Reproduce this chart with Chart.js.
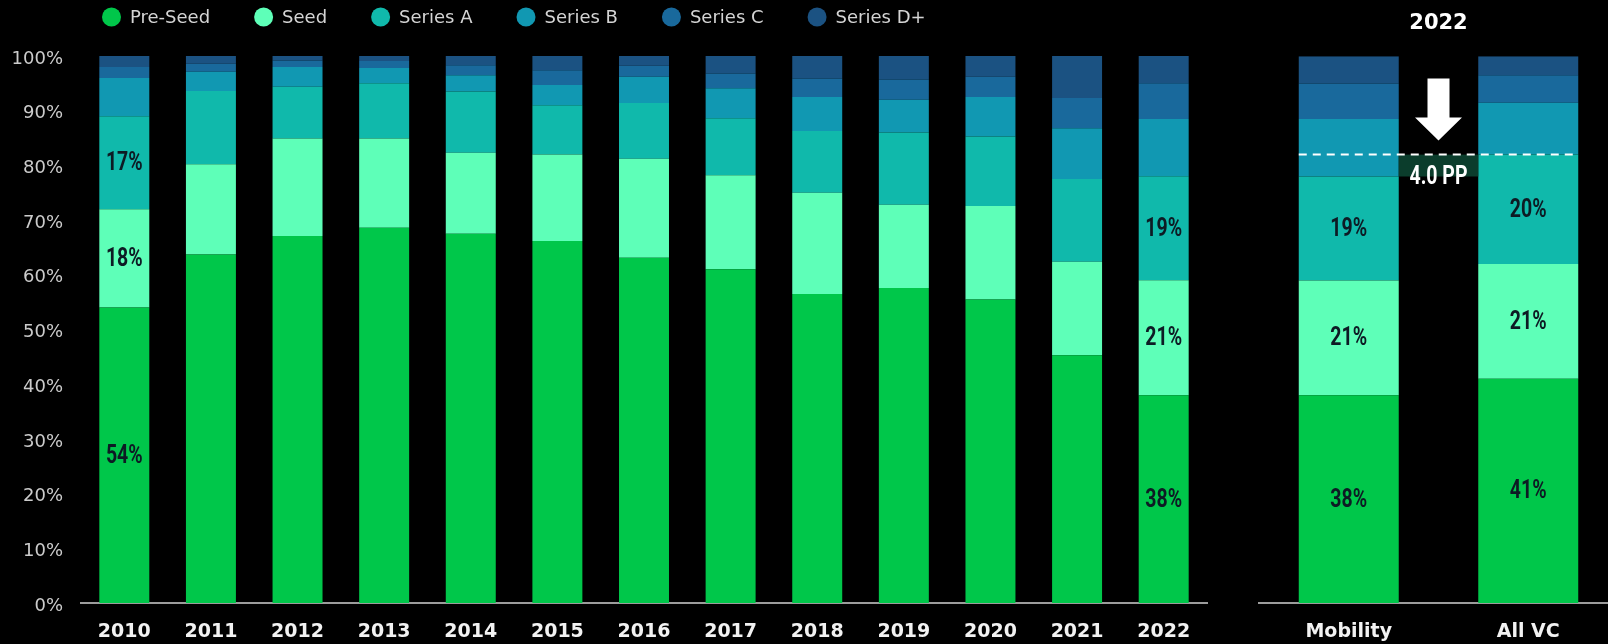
<!DOCTYPE html>
<html>
<head>
<meta charset="utf-8">
<title>Funding stage mix</title>
<script src="https://cdn.jsdelivr.net/npm/chart.js@4.4.0/dist/chart.umd.min.js"></script>
<style>
  html, body { margin: 0; padding: 0; background: #000; width: 1608px; height: 644px; overflow: hidden; }
  #stagesBox { position: absolute; left: 0; top: 0; width: 1210px; height: 644px; }
  #compareBox { position: absolute; left: 1210px; top: 0; width: 408px; height: 644px; }
</style>
</head>
<body>
<div id="stagesBox"><canvas id="stages" width="1210" height="644"></canvas></div>
<div id="compareBox"><canvas id="compare" width="408" height="644"></canvas></div>
<script>
// Share of deals by funding stage, mobility, 2010-2022 (percent of each year)
const years = ['2010', '2011', '2012', '2013', '2014', '2015', '2016', '2017', '2018', '2019', '2020', '2021', '2022'];
const preSeed  = [54, 63.7, 67.1, 68.6, 67.5, 66.2, 63.1, 61.0, 56.5, 57.6, 55.5, 45.3, 38];
const seed     = [18, 16.5, 17.8, 16.3, 14.8, 15.8, 18.1, 17.2, 18.5, 15.2, 17.1, 17.1, 21];
const seriesA  = [17, 13.4,  9.5, 10.1, 11.2,  9.0, 10.2, 10.4, 11.3, 13.2, 12.7, 15.1, 19];
const seriesB  = [ 7,  3.5,  3.6,  2.8,  3.0,  3.7,  4.8,  5.5,  6.2,  6.0,  7.2,  9.3, 10.5];
const seriesC  = [ 2,  1.5,  1.2,  1.3,  1.8,  2.7,  2.0,  2.7,  3.4,  3.7,  3.7,  5.5, 6.5];
const seriesD  = [ 2,  1.4,  0.8,  0.9,  1.7,  2.6,  1.8,  3.2,  4.1,  4.3,  3.8,  7.7, 5];

// 2022 comparison: mobility vs. all venture capital
const compareCats = ['Mobility', 'All VC'];
const cmpPreSeed  = [38, 41];
const cmpSeed     = [21, 21];
const cmpSeriesA  = [19, 20];
const cmpSeriesB  = [10.5, 9.5];
const cmpSeriesC  = [6.5, 5];
const cmpSeriesD  = [5, 3.5];

const yTicks = [0, 10, 20, 30, 40, 50, 60, 70, 80, 90, 100];

const stageNames  = ['Pre-Seed', 'Seed', 'Series A', 'Series B', 'Series C', 'Series D+'];
const stageColors = ['#00c74a', '#5effb8', '#10b9ab', '#1198b2', '#19699c', '#1b5282'];

Chart.defaults.font.family = "'DejaVu Sans', sans-serif";
Chart.defaults.animation = false;

function makeSets(series) {
  return series.map((data, i) => ({
    label: stageNames[i],
    data: data,
    backgroundColor: stageColors[i],
    borderWidth: 0,
    barPercentage: 1,
    stack: 'stages'
  }));
}

// Legend row: dot + name, laid out left to right
const dotLegend = {
  id: 'dotLegend',
  afterDraw(chart, args, o) {
    const ctx = chart.ctx;
    ctx.save();
    ctx.font = `${o.size}px ${o.family}`;
    ctx.textBaseline = 'middle';
    ctx.textAlign = 'left';
    let x = o.x;
    chart.data.datasets.forEach(ds => {
      ctx.fillStyle = ds.backgroundColor;
      ctx.beginPath();
      ctx.ellipse(x + o.r, o.y, o.r, o.r, 0, 0, Math.PI * 2);
      ctx.fill();
      const tx = x + o.r * 2 + o.textGap;
      ctx.fillStyle = o.color;
      ctx.fillText(ds.label, tx, o.y + 1);
      x = tx + ctx.measureText(ds.label).width + o.itemGap;
    });
    ctx.restore();
  }
};

// Percent labels centred inside chosen segments, in a narrow bold face
const segmentLabels = {
  id: 'segmentLabels',
  afterDatasetsDraw(chart, args, o) {
    const ctx = chart.ctx;
    ctx.save();
    ctx.font = `bold ${o.size}px ${o.family}`;
    ctx.fillStyle = o.color;
    ctx.textAlign = 'center';
    ctx.textBaseline = 'middle';
    o.datasets.forEach(di => {
      const meta = chart.getDatasetMeta(di);
      o.indices.forEach(i => {
        const el = meta.data[i];
        if (!el) return;
        const c = el.getCenterPoint();
        const v = chart.data.datasets[di].data[i];
        ctx.save();
        ctx.translate(c.x, c.y + 1);
        ctx.scale(o.squeeze, 1);
        ctx.fillText(v + '%', 0, 0);
        ctx.restore();
      });
    });
    ctx.restore();
  }
};

// Gap between the Series A tops of the two comparison bars
const gapMarker = {
  id: 'gapMarker',
  afterDatasetsDraw(chart, args, o) {
    const ctx = chart.ctx;
    const meta = chart.getDatasetMeta(o.dataset);
    const a = meta.data[0], b = meta.data[1];
    if (!a || !b) return;
    const sumTo = (idx) => {
      let s = 0;
      for (let d = 0; d <= o.dataset; d++) s += chart.data.datasets[d].data[idx];
      return s;
    };
    const diff = sumTo(1) - sumTo(0);
    const yLow = a.y, yHigh = b.y;
    const innerL = a.x + a.width / 2, innerR = b.x - b.width / 2;
    ctx.save();
    ctx.fillStyle = o.band;
    ctx.fillRect(innerL, yHigh, innerR - innerL, yLow - yHigh);

    ctx.strokeStyle = '#ffffff';
    ctx.lineWidth = 2;
    ctx.setLineDash([8, 6]);
    ctx.beginPath();
    ctx.moveTo(a.x - a.width / 2, yHigh);
    ctx.lineTo(b.x + b.width / 2, yHigh);
    ctx.stroke();
    ctx.setLineDash([]);

    const cx = (innerL + innerR) / 2;
    const tip = yHigh - 14;
    ctx.fillStyle = '#ffffff';
    ctx.beginPath();
    ctx.moveTo(cx, tip);
    ctx.lineTo(cx + 23.5, tip - 23);
    ctx.lineTo(cx + 11, tip - 23);
    ctx.lineTo(cx + 11, tip - 62);
    ctx.lineTo(cx - 11, tip - 62);
    ctx.lineTo(cx - 11, tip - 23);
    ctx.lineTo(cx - 23.5, tip - 23);
    ctx.closePath();
    ctx.fill();

    ctx.font = `bold ${o.size}px ${o.family}`;
    ctx.textAlign = 'center';
    ctx.textBaseline = 'middle';
    ctx.translate(cx, yLow + 1);
    ctx.scale(o.squeeze, 1);
    ctx.fillText(diff.toFixed(1) + ' PP', 0, 0);
    ctx.restore();
  }
};

const labelFont = { size: 26, family: "Roboto, 'DejaVu Sans', sans-serif", color: '#0d1b24', squeeze: 0.75 };

function xAxis() {
  return {
    stacked: true,
    grid: { display: false, drawTicks: false },
    border: { display: true, color: '#9c9c9c', width: 2 },
    ticks: { color: '#f2f2f2', padding: 18, font: { family: "'DejaVu Sans', sans-serif", weight: 'bold', size: 19 } },
    afterFit(s) { s.height = 41; }
  };
}

new Chart(document.getElementById('stages'), {
  type: 'bar',
  data: {
    labels: years,
    datasets: makeSets([preSeed, seed, seriesA, seriesB, seriesC, seriesD]).map(d => ({ ...d, categoryPercentage: 0.577 }))
  },
  plugins: [segmentLabels, dotLegend],
  options: {
    responsive: false,
    layout: { padding: { top: 56, right: 3, bottom: 0, left: 0 } },
    plugins: {
      legend: { display: false },
      tooltip: { enabled: false },
      dotLegend: { x: 102, y: 17, r: 9.5, textGap: 9, itemGap: 44, size: 18, family: "'DejaVu Sans', sans-serif", color: '#d4d4d4' },
      segmentLabels: { datasets: [0, 1, 2], indices: [0, 12], ...labelFont }
    },
    scales: {
      x: xAxis(),
      y: {
        stacked: true,
        min: 0,
        max: 100,
        afterBuildTicks(s) { s.ticks = yTicks.map(v => ({ value: v })); },
        grid: { display: false, drawTicks: false },
        border: { display: false },
        ticks: {
          color: '#cbcbcb',
          padding: 18,
          labelOffset: 3,
          font: { family: "'DejaVu Sans', sans-serif", size: 18 },
          callback: v => v + '%'
        },
        afterFit(s) { s.width = 81; }
      }
    }
  }
});

new Chart(document.getElementById('compare'), {
  type: 'bar',
  data: {
    labels: compareCats,
    datasets: makeSets([cmpPreSeed, cmpSeed, cmpSeriesA, cmpSeriesB, cmpSeriesC, cmpSeriesD]).map(d => ({ ...d, categoryPercentage: 0.557 }))
  },
  plugins: [segmentLabels, gapMarker],
  options: {
    responsive: false,
    layout: { padding: { top: 0, right: 0, bottom: 0, left: 49 } },
    plugins: {
      legend: { display: false },
      tooltip: { enabled: false },
      title: {
        display: true,
        text: '2022',
        color: '#ffffff',
        fullSize: false,
        font: { family: "'DejaVu Sans', sans-serif", weight: 'bold', size: 21 },
        padding: { top: 11, bottom: 20 }
      },
      segmentLabels: { datasets: [0, 1, 2], indices: [0, 1], ...labelFont },
      gapMarker: { dataset: 2, band: '#0b3d2c', size: 26, family: "Roboto, 'DejaVu Sans', sans-serif", squeeze: 0.75 }
    },
    scales: {
      x: xAxis(),
      y: { stacked: true, min: 0, max: 100, display: false }
    }
  }
});
</script>
</body>
</html>
